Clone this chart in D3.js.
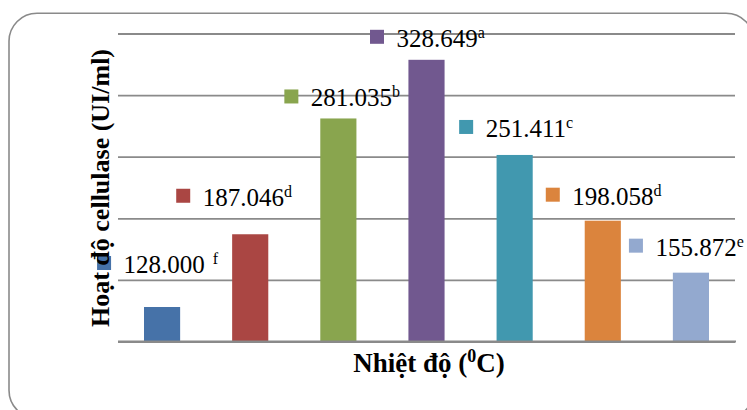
<!DOCTYPE html>
<html>
<head>
<meta charset="utf-8">
<script src="https://cdn.jsdelivr.net/npm/d3@7"></script>
<style>
  html, body { margin: 0; padding: 0; background: #fff; }
  svg { display: block; }
  svg text { font-family: "Liberation Serif", "Times New Roman", serif; }
</style>
</head>
<body>
<svg id="chart" width="747" height="410"></svg>
<script>
// Cellulase activity at each temperature level
const categories = ["T1", "T2", "T3", "T4", "T5", "T6", "T7"];
const values = [128.000, 187.046, 281.035, 328.649, 251.411, 198.058, 155.872];
const letters = ["f", "d", "b", "a", "c", "d", "e"];
const colors = ["#4672A8", "#AA4643", "#89A54E", "#71588F", "#4198AF", "#DB843D", "#93A9CF"];
const yTicks = [100, 150, 200, 250, 300, 350];

// Hand-placed label anchors: offset of legend key from bar centre / label baseline from bar top
const labelNudge = [[-65, -34], [-74, -28.5], [-54, -12], [-56.5, -13], [-55.5, -18], [-57, -16], [-62, -17]];
const supGap = [8, 0, 0, 0, 0, 0, 0];

const svg = d3.select("#chart");
const m = { left: 118, right: 735, top: 33.5, bottom: 341.5 };

// Rounded chart frame
svg.append("rect")
  .attr("x", 9).attr("y", 13.3)
  .attr("width", 745).attr("height", 405)
  .attr("rx", 28).attr("ry", 28)
  .attr("fill", "#fff")
  .attr("stroke", "#8a8a8a")
  .attr("stroke-width", 1.6);

const x = d3.scaleBand()
  .domain(categories)
  .range([m.left, m.right])
  .paddingInner(0.59)
  .paddingOuter(0.295);

const y = d3.scaleLinear()
  .domain([d3.min(yTicks), d3.max(yTicks)])
  .range([m.bottom, m.top]);

// Horizontal gridlines (tick labels are not shown)
const grid = svg.append("g")
  .attr("transform", `translate(${m.left},0)`)
  .call(d3.axisLeft(y).tickValues(yTicks).tickSize(-(m.right - m.left)).tickFormat(""));
grid.select(".domain").remove();
grid.selectAll(".tick line")
  .attr("stroke", "#8a8a8a")
  .attr("stroke-width", 1.8);

// Bars
svg.append("g").selectAll("rect")
  .data(values)
  .join("rect")
  .attr("x", (d, i) => x(categories[i]))
  .attr("y", d => y(d))
  .attr("width", x.bandwidth())
  .attr("height", d => y(yTicks[0]) - y(d))
  .attr("fill", (d, i) => colors[i]);

// Baseline drawn over bars
svg.append("line")
  .attr("x1", m.left).attr("x2", m.right + 1)
  .attr("y1", y(yTicks[0])).attr("y2", y(yTicks[0]))
  .attr("stroke", "#8a8a8a")
  .attr("stroke-width", 1.8);

// Data labels with legend keys and significance letters
const fmt = d3.format(".3f");
const lab = svg.append("g").selectAll("g")
  .data(values)
  .join("g")
  .attr("transform", (d, i) => {
    const cx = x(categories[i]) + x.bandwidth() / 2 + labelNudge[i][0];
    const by = y(d) + labelNudge[i][1];
    return `translate(${cx},${by})`;
  });

lab.append("rect")
  .attr("x", 0).attr("y", -17)
  .attr("width", 14).attr("height", 14)
  .attr("fill", (d, i) => colors[i]);

const txt = lab.append("text")
  .attr("x", 26.5).attr("y", 0)
  .style("font-size", "25px")
  .attr("fill", "#000");
txt.append("tspan").text(d => fmt(d));
txt.append("tspan")
  .attr("dx", (d, i) => supGap[i])
  .attr("dy", -9)
  .style("font-size", "16px")
  .text((d, i) => letters[i]);

// Axis titles
svg.append("text")
  .attr("transform", "translate(108.5,188) rotate(-90)")
  .attr("text-anchor", "middle")
  .style("font-weight", "bold")
  .style("font-size", "26px")
  .text("Hoạt độ cellulase (UI/ml)");

const xt = svg.append("text")
  .attr("x", 429).attr("y", 371.5)
  .attr("text-anchor", "middle")
  .style("font-weight", "bold")
  .style("font-size", "27px");
xt.append("tspan").text("Nhiệt độ (");
xt.append("tspan").attr("dy", -10).style("font-size", "18px").text("0");
xt.append("tspan").attr("dy", 10).text("C)");
</script>
</body>
</html>
